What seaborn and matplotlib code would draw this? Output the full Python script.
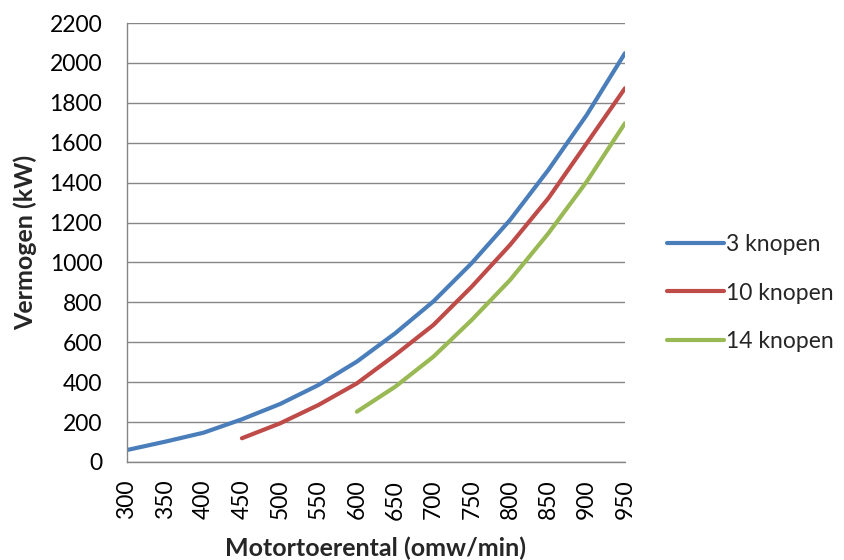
import matplotlib
matplotlib.use("Agg")
import matplotlib.pyplot as plt
import seaborn as sns
import pandas as pd
from matplotlib.lines import Line2D

rpm = [300, 350, 400, 450, 500, 550, 600, 650, 700, 750, 800, 850, 900, 950]
knopen3 = [60, 102, 147, 214, 291, 386, 503, 645, 805, 997, 1213, 1464, 1739, 2049]
rpm10 = [450, 500, 550, 600, 650, 700, 750, 800, 850, 900, 950]
knopen10 = [119, 194, 286, 394, 536, 687, 879, 1088, 1322, 1597, 1873]
rpm14 = [600, 650, 700, 750, 800, 850, 900, 950]
knopen14 = [252, 377, 528, 712, 912, 1146, 1405, 1698]
series_names = ["3 knopen", "10 knopen", "14 knopen"]
colors = ["#4A7EBB", "#BE4B48", "#98B954"]
yticks = list(range(0, 2201, 200))

df = pd.concat([
    pd.DataFrame({"rpm": rpm, "kW": knopen3, "serie": series_names[0]}),
    pd.DataFrame({"rpm": rpm10, "kW": knopen10, "serie": series_names[1]}),
    pd.DataFrame({"rpm": rpm14, "kW": knopen14, "serie": series_names[2]}),
])

sns.set_style("white")
plt.rcParams["font.family"] = ["Lato", "DejaVu Sans"]

fig = plt.figure(figsize=(8.45, 5.6), dpi=100)
ax = fig.add_axes([127/845, 1 - 462/560, (625 - 127)/845, (462 - 23)/560])

sns.lineplot(data=df, x="rpm", y="kW", hue="serie", palette=colors,
             hue_order=series_names, linewidth=3.0, ax=ax, legend=False,
             solid_capstyle="round")

grid_c = "#868686"
ax.set_xlim(300, 950)
ax.set_ylim(0, 2200)
ax.set_yticks(yticks)
ax.set_xticks(rpm)
ax.set_xticklabels([str(v) for v in rpm], rotation=90, fontsize=16.5)
ax.set_yticklabels([str(v) for v in yticks], fontsize=16.5)
ax.yaxis.grid(True, color=grid_c, linewidth=1.0)
ax.set_axisbelow(True)
for s in ["top", "right"]:
    ax.spines[s].set_visible(False)
for s in ["left", "bottom"]:
    ax.spines[s].set_color(grid_c)
    ax.spines[s].set_linewidth(1.0)
ax.tick_params(axis="both", which="major", length=5.8, width=1.0, color=grid_c,
               direction="out", labelcolor="black")
ax.tick_params(axis="y", pad=12)
ax.tick_params(axis="x", pad=7)
ax.set_xlabel("Motortoerental (omw/min)", fontsize=18, fontweight="bold", labelpad=12)
ax.set_ylabel("Vermogen (kW)", fontsize=18, fontweight="bold", labelpad=9)

handles = [Line2D([0], [0], color=c, linewidth=3.0, solid_capstyle="round") for c in colors]
leg = fig.legend(handles, series_names, loc="center left",
                 bbox_to_anchor=(646/845, 1 - 293/560), frameon=False,
                 fontsize=16.5, handlelength=2.5, handletextpad=0.1,
                 labelspacing=1.2)

fig.savefig("out.png", dpi=100)
